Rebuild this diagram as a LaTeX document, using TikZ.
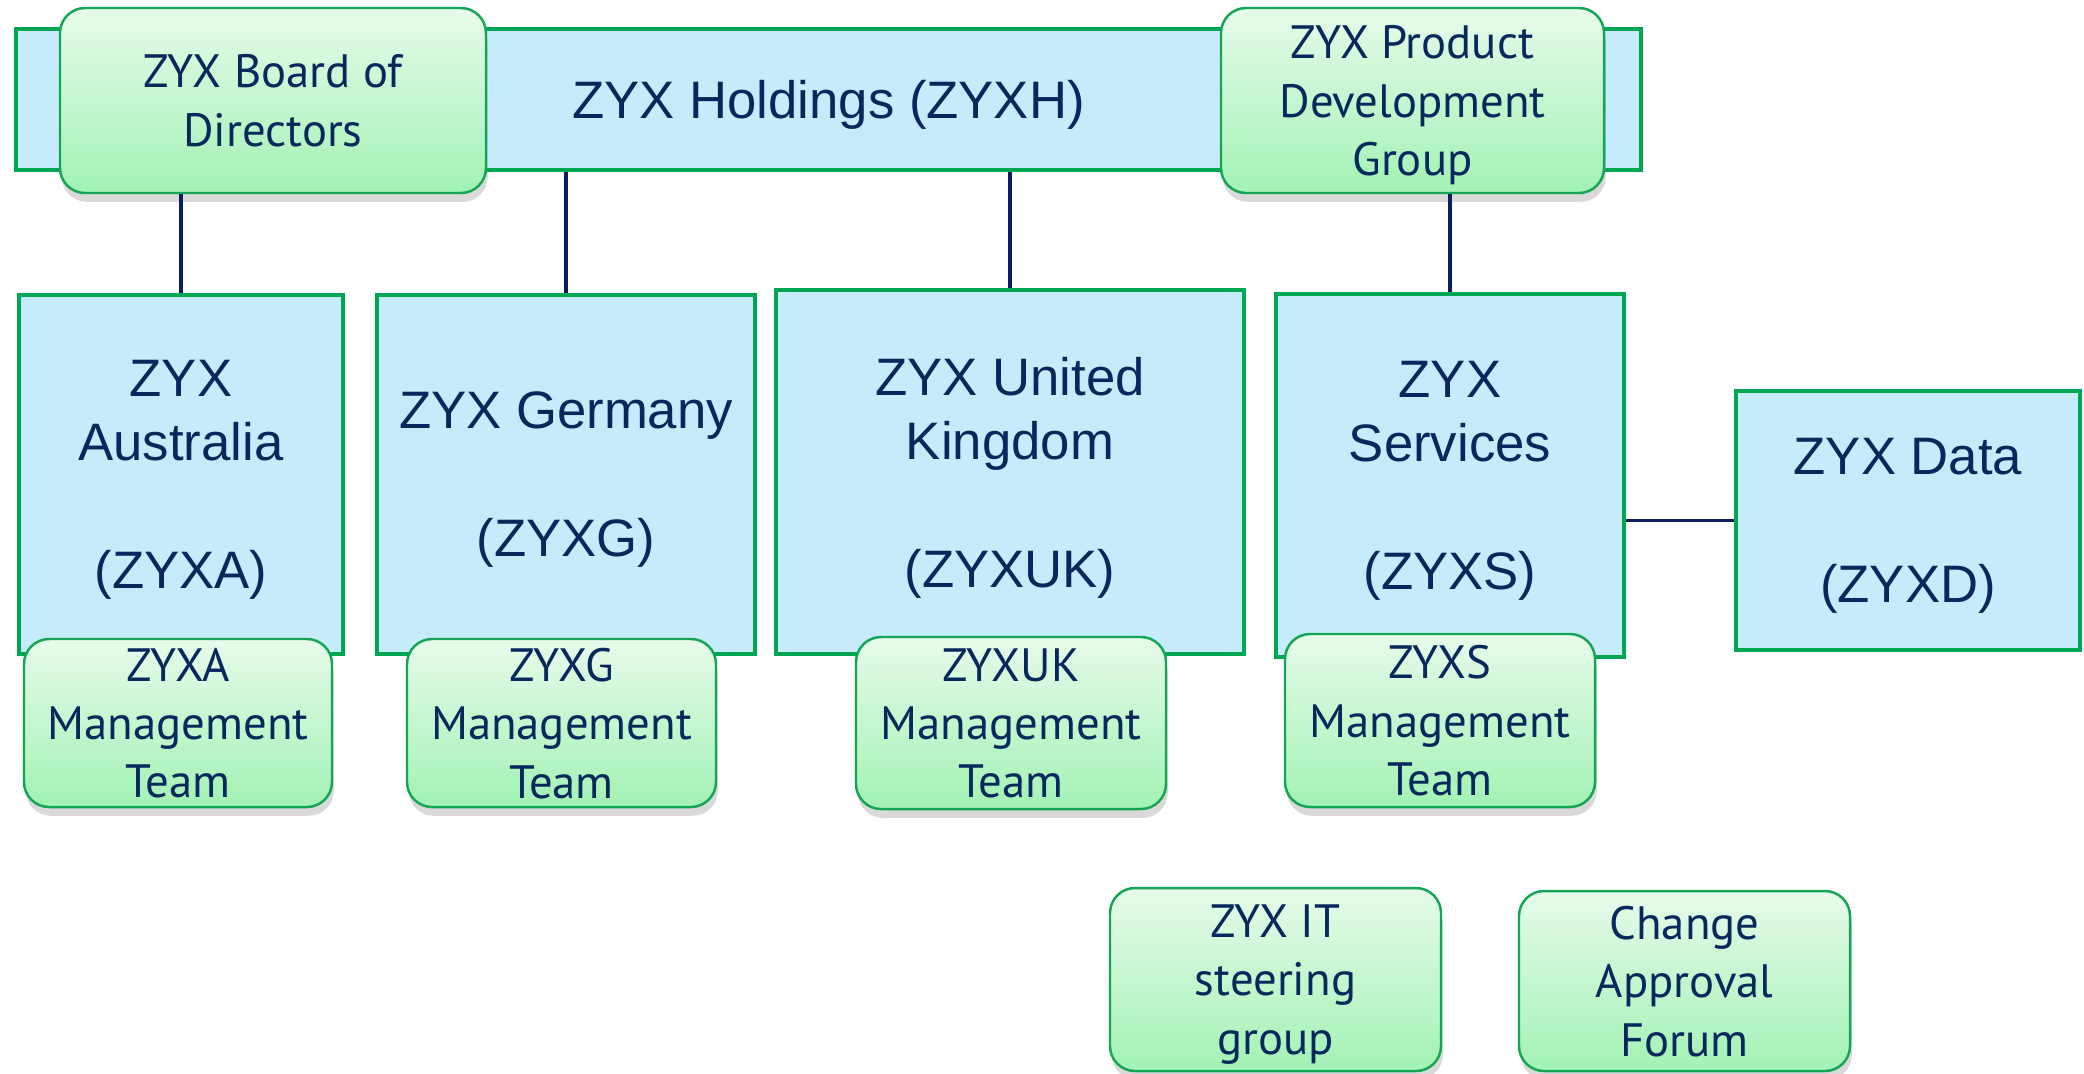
\documentclass[tikz,border=0pt]{standalone}
\usepackage{fontspec}
\setmainfont{Liberation Sans}
\newfontfamily\gillfont{PT Sans}
\usetikzlibrary{shadows}
\definecolor{unitblue}{RGB}{198,236,252}
\definecolor{unitgreen}{RGB}{0,166,81}
\definecolor{boardtop}{RGB}{231,251,234}
\definecolor{boardbot}{RGB}{162,242,180}
\definecolor{boardline}{RGB}{20,165,85}
\definecolor{navytext}{RGB}{6,40,92}
\definecolor{linknavy}{RGB}{12,30,92}

\begin{document}
\begin{tikzpicture}[
  unit/.style={draw=unitgreen, line width=1.3pt, fill=unitblue, text=navytext, align=center, inner sep=0pt, text depth=0pt, font=\fontsize{15}{18.2}\selectfont},
  board/.style={draw=boardline, line width=0.7pt, top color=boardtop, bottom color=boardbot, rounded corners=0.25cm, text=navytext, align=center, inner sep=0pt, text depth=0pt, font=\gillfont\fontsize{13.3}{16.6}\selectfont, drop shadow={shadow xshift=0.5pt, shadow yshift=-2.5pt, opacity=0.3}},
  link/.style={draw=linknavy, line width=0.9pt}
]
\useasboundingbox (0, 0) rectangle (20.84, -10.73);

\node[unit, minimum width=16.25cm, minimum height=1.41cm] (zyxh) at (8.285, -0.995) {ZYX Holdings (ZYXH)};
\node[board, minimum width=4.26cm, minimum height=1.85cm] (board) at (2.73, -1.005) {ZYX Board of\\Directors};
\node[board, minimum width=3.83cm, minimum height=1.85cm] (pdg) at (14.125, -1.005) {ZYX Product\\Development\\Group};

\node[unit, minimum width=3.24cm, minimum height=3.59cm] (zyxa) at (1.81, -4.745) {ZYX\\Australia\\[18.2pt](ZYXA)};
\node[unit, minimum width=3.78cm, minimum height=3.59cm] (zyxg) at (5.66, -4.745) {ZYX Germany\\[18.2pt](ZYXG)};
\node[unit, minimum width=4.68cm, minimum height=3.64cm] (zyxuk) at (10.10, -4.72) {ZYX United\\Kingdom\\[18.2pt](ZYXUK)};
\node[unit, minimum width=3.48cm, minimum height=3.63cm] (zyxs) at (14.50, -4.755) {ZYX\\Services\\[18.2pt](ZYXS)};
\node[unit, minimum width=3.44cm, minimum height=2.59cm] (zyxd) at (19.08, -5.205) {ZYX Data\\[18.2pt](ZYXD)};

\node[board, minimum width=3.08cm, minimum height=1.68cm] (mgta) at (1.78, -7.23) {ZYXA\\Management\\Team};
\node[board, minimum width=3.09cm, minimum height=1.68cm] (mgtg) at (5.615, -7.23) {ZYXG\\Management\\Team};
\node[board, minimum width=3.10cm, minimum height=1.72cm] (mgtuk) at (10.11, -7.23) {ZYXUK\\Management\\Team};
\node[board, minimum width=3.10cm, minimum height=1.73cm] (mgts) at (14.40, -7.205) {ZYXS\\Management\\Team};

\draw[link] (zyxa.north) -- (zyxa.north |- board.south);
\draw[link] (zyxg.north) -- (zyxg.north |- zyxh.south);
\draw[link] (zyxuk.north) -- (zyxuk.north |- zyxh.south);
\draw[link] (zyxs.north) -- (zyxs.north |- pdg.south);
\draw[link] (zyxd.west) -- (zyxd.west -| zyxs.east);
%
\node[board, minimum width=3.31cm, minimum height=1.83cm] (itsg) at (12.755, -9.795) {ZYX IT\\steering\\group};
\node[board, minimum width=3.31cm, minimum height=1.80cm] (caf) at (16.845, -9.81) {Change\\Approval\\Forum};

\end{tikzpicture}
\end{document}
